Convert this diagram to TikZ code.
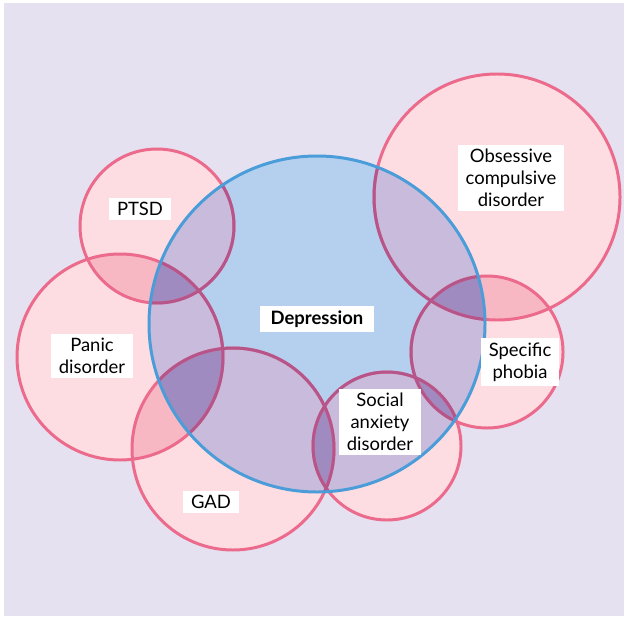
\documentclass[tikz,border=0pt]{standalone}
\usepackage{fontspec}
\setmainfont{Lato}

\definecolor{lavender}{HTML}{E5E1F0}
\definecolor{pinkfill}{HTML}{FDDDE1}
\definecolor{pinkdeep}{HTML}{F7B8C4}
\definecolor{pinkline}{HTML}{EC6A8C}
\definecolor{bluefill}{HTML}{B5D0EE}
\definecolor{blueline}{HTML}{4A9DD8}
\definecolor{mauve}{HTML}{C8BBDB}
\definecolor{mauvedeep}{HTML}{9F8BC0}
\definecolor{mauveline}{HTML}{B5558A}

% the circles, in pixel units
\def\depcirc{(317,324) circle [radius=168]}
\def\ptsdcirc{(157,226) circle [radius=77]}
\def\paniccirc{(120,357) circle [radius=103]}
\def\gadcirc{(233,449) circle [radius=101]}
\def\socialcirc{(387,446) circle [radius=74]}
\def\phobiacirc{(487,352) circle [radius=76]}
\def\ocdcirc{(497,197) circle [radius=123]}

\tikzset{
  tag/.style={fill=white, align=center, inner xsep=4.5pt, inner ysep=2.5pt, font=\fontsize{10.5}{12.5}\selectfont},
  ring/.style={line width=1.7pt}
}

\begin{document}
\begin{tikzpicture}[x=0.02cm, y=-0.02cm]
\useasboundingbox (0,0) rectangle (624,618);
\fill[lavender] (4,3) rectangle (624,616);

% anxiety disorders
\fill[pinkfill] \ptsdcirc;
\fill[pinkfill] \paniccirc;
\fill[pinkfill] \gadcirc;
\fill[pinkfill] \socialcirc;
\fill[pinkfill] \phobiacirc;
\fill[pinkfill] \ocdcirc;

\begin{scope} \clip \ptsdcirc; \fill[pinkdeep] \paniccirc; \end{scope}
\begin{scope} \clip \paniccirc; \fill[pinkdeep] \gadcirc; \end{scope}
\begin{scope} \clip \gadcirc; \fill[pinkdeep] \socialcirc; \end{scope}
\begin{scope} \clip \socialcirc; \fill[pinkdeep] \phobiacirc; \end{scope}
\begin{scope} \clip \phobiacirc; \fill[pinkdeep] \ocdcirc; \end{scope}

% depression
\fill[bluefill] \depcirc;
\begin{scope}
\clip \depcirc;
\fill[mauve] \ptsdcirc;
\fill[mauve] \paniccirc;
\fill[mauve] \gadcirc;
\fill[mauve] \socialcirc;
\fill[mauve] \phobiacirc;
\fill[mauve] \ocdcirc;
\begin{scope} \clip \ptsdcirc; \fill[mauvedeep] \paniccirc; \end{scope}
\begin{scope} \clip \paniccirc; \fill[mauvedeep] \gadcirc; \end{scope}
\begin{scope} \clip \gadcirc; \fill[mauvedeep] \socialcirc; \end{scope}
\begin{scope} \clip \socialcirc; \fill[mauvedeep] \phobiacirc; \end{scope}
\begin{scope} \clip \phobiacirc; \fill[mauvedeep] \ocdcirc; \end{scope}
\end{scope}

% outlines
\draw[ring, pinkline] \ptsdcirc;
\draw[ring, pinkline] \paniccirc;
\draw[ring, pinkline] \gadcirc;
\draw[ring, pinkline] \socialcirc;
\draw[ring, pinkline] \phobiacirc;
\draw[ring, pinkline] \ocdcirc;
\begin{scope}
\clip \depcirc;
\draw[ring, mauveline] \ptsdcirc;
\draw[ring, mauveline] \paniccirc;
\draw[ring, mauveline] \gadcirc;
\draw[ring, mauveline] \socialcirc;
\draw[ring, mauveline] \phobiacirc;
\draw[ring, mauveline] \ocdcirc;
\end{scope}
\draw[ring, blueline] \depcirc;

% labels
\node[tag, font=\fontsize{10.5}{12.5}\selectfont\bfseries, inner xsep=6pt] (dep) at (317,319) {Depression};
\node[tag] (ptsd) at (140,209) {PTSD};
\node[tag] (panic) at (92,356) {Panic\\disorder};
\node[tag] (gad) at (211,502) {GAD};
\node[tag] (social) at (380,422) {Social\\anxiety\\disorder};
\node[tag] (phobia) at (520,362) {Specific\\phobia};
\node[tag] (ocd) at (511,178) {Obsessive\\compulsive\\disorder};
\end{tikzpicture}
\end{document}
